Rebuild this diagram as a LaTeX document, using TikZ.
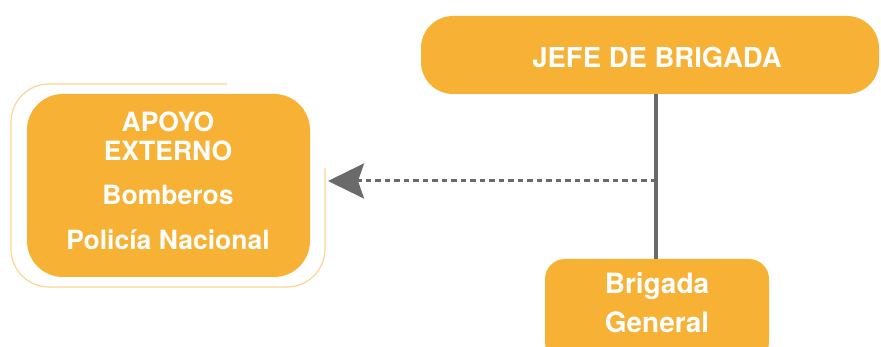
\documentclass[tikz,border=0pt]{standalone}
\usepackage{fontspec}
\setmainfont{TeX Gyre Heros}
\usetikzlibrary{arrows.meta}
\definecolor{orgfill}{HTML}{F7B135}
\definecolor{orgline}{HTML}{FCD592}
\definecolor{conn}{HTML}{6A6A6A}
\tikzset{
  box/.style={fill=orgfill, draw=none, inner sep=0pt},
  lbl/.style={text=white, font=\bfseries\fontsize{26.5}{30}\selectfont, inner sep=0pt, anchor=center},
}
\begin{document}
\begin{tikzpicture}[x=1pt,y=-1pt]
\useasboundingbox (0,0) rectangle (881,347);
\clip (0,0) rectangle (881,347);
% boxes
\node[box, rounded corners=32pt, minimum width=458pt, minimum height=78pt] (jefe) at (650,55) {};
\node[box, rounded corners=20pt, minimum width=224pt, minimum height=103pt] (brig) at (657,310.5) {};
\node[box, rounded corners=36pt, minimum width=283pt, minimum height=183pt] (apoyo) at (168.5,185.5) {};
% outline around apoyo
\coordinate (oa) at (227,84);
\coordinate (ob) at (325,168);
\draw[orgline, line width=1.2pt, rounded corners=38pt] (oa) -- (11,84) -- (11,287) -- (325,287) -- (ob);
% texts
\node[lbl, font=\bfseries\fontsize{27.5}{30}\selectfont] (tjefe) at (657,57) {JEFE DE BRIGADA};
\node[lbl, font=\bfseries\fontsize{28}{30}\selectfont] (tb1) at (657,286) {Brigada};
\node[lbl, font=\bfseries\fontsize{28}{30}\selectfont] (tb2) at (657,322) {General};
\node[lbl] (ta1) at (168,122) {APOYO};
\node[lbl] (ta2) at (168,151) {EXTERNO};
\node[lbl] (ta3) at (168,195) {Bomberos};
\node[lbl] (ta4) at (168,240) {Policía Nacional};
% connectors
\coordinate (jb) at (656,94);
\coordinate (bt) at (656,259);
\draw[conn, line width=3.2pt] (jb) -- (bt);
\coordinate (mid) at (656,181);
\coordinate (tip) at (328,181);
\draw[conn, line width=3pt, dash pattern=on 5.5pt off 4pt,
  -{Stealth[length=36pt,width=35pt,inset=6pt]}] (mid) -- (tip);
\end{tikzpicture}
\end{document}
